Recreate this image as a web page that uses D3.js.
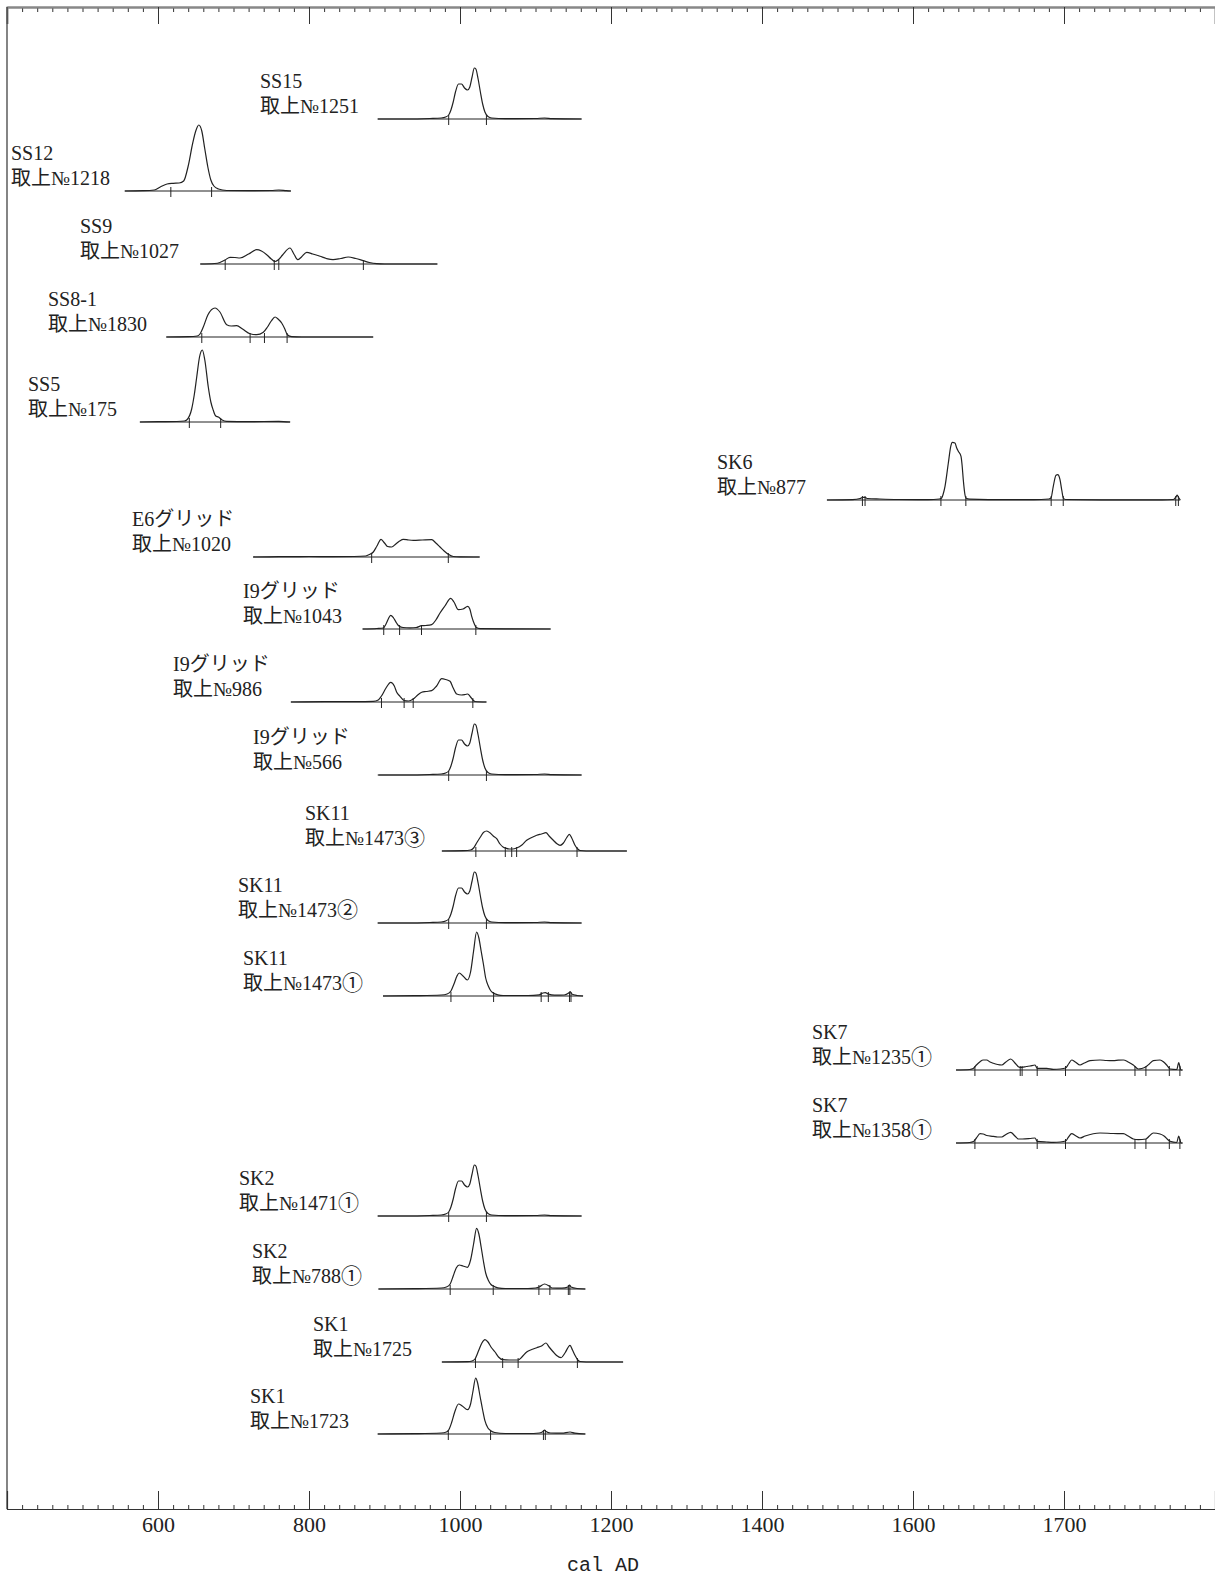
<!DOCTYPE html>
<meta charset="utf-8">
<style>
  body { margin: 0; background: #fff; }
  text { font-family: "Liberation Serif", "Noto Sans CJK JP", serif; fill: #222; }
</style>
<body>
<div id="chart"></div>
<script src="https://d3js.org/d3.v7.min.js"></script>
<script>
// ---- data ----
var labelTop = ["SS15", "SS12", "SS9", "SS8-1", "SS5", "SK6", "E6グリッド", "I9グリッド", "I9グリッド", "I9グリッド",
  "SK11", "SK11", "SK11", "SK7", "SK7", "SK2", "SK2", "SK1", "SK1"];
var labelBottom = ["取上№1251", "取上№1218", "取上№1027", "取上№1830", "取上№175", "取上№877", "取上№1020", "取上№1043",
  "取上№986", "取上№566", "取上№1473③", "取上№1473②", "取上№1473①", "取上№1235①", "取上№1358①", "取上№1471①",
  "取上№788①", "取上№1725", "取上№1723"];

// year extent of each baseline
var spans = [[891, 1161], [556, 776], [656, 970], [611, 885], [576, 775], [1486, 1954], [726, 1026], [871, 1120],
  [776, 1035], [892, 1161], [976, 1221], [891, 1161], [898, 1163], [1657, 1957], [1657, 1957], [891, 1161],
  [892, 1166], [976, 1216], [891, 1166]];

// range boundaries (cal AD)
var ranges = [
  [985, 1035],
  [617, 671],
  [689, 754, 760, 872],
  [658, 722, 741, 771],
  [641.5, 683],
  [1533, 1536.5, 1637, 1670, 1783, 1799, 1948, 1951.5],
  [883, 984.5],
  [899, 920, 949, 1021],
  [896, 926, 938, 1017],
  [985, 1035],
  [1021, 1060, 1068.5, 1075, 1155],
  [985, 1035],
  [988, 1044.5, 1107.5, 1117, 1145, 1147],
  [1682, 1742, 1744.5, 1764.5, 1802, 1894, 1908.5, 1939.5, 1953.5],
  [1682, 1764.5, 1802, 1894, 1908.5, 1939.5, 1953.5],
  [985, 1035],
  [987, 1044, 1104.5, 1119, 1143.5, 1145.5],
  [1020.5, 1056.5, 1077, 1155.5],
  [984.5, 1040.5, 1110.5, 1113]
];

// relative probability [year, value]
var probA = [[891, 0], [930, 0], [960, 0.5], [975, 1], [981, 2], [985, 4], [988, 9], [991, 17], [994, 27], [998, 35],
  [1002, 35], [1006, 31], [1010, 29], [1013, 32], [1016, 42], [1019, 51], [1021, 50], [1024, 40], [1027, 27],
  [1030, 15], [1033, 7], [1037, 2.5], [1042, 1], [1060, 0.3], [1100, 0.5], [1112, 1], [1122, 0.3], [1161, 0]];
var probSS12 = [[556, 0], [580, 0.3], [595, 1], [603, 4], [612, 7], [620, 7.7], [628, 8], [634, 10], [640, 25],
  [646, 48], [650, 60], [654, 66], [658, 60], [662, 42], [666, 24], [670, 11], [674, 5], [680, 2], [691, 0.5],
  [720, 0.3], [750, 0.5], [760, 1], [770, 0.3], [776, 0]];
var probSS9 = [[656, 0], [675, 0.5], [682, 1.5], [688.7, 4], [695.4, 6.7], [702, 6.5], [708.6, 6], [720, 10],
  [730.7, 14.3], [737, 13], [744, 9.3], [750, 5], [755, 2.5], [759, 4], [765, 9], [774.8, 16], [780, 10], [785, 4.3],
  [790, 7], [797, 11.7], [805, 10], [814.6, 7.7], [823, 5.5], [831.8, 4.3], [842, 5.5], [852, 7], [862, 5.5],
  [871.9, 3.3], [880, 1.5], [889.7, 0.3], [900, 0], [970, 0]];
var probSS8 = [[611, 0], [640, 0.3], [652, 1], [655.6, 3], [660, 10], [666, 22], [675.5, 29], [682, 25], [691, 12.3],
  [697, 11], [704.2, 11.3], [712, 8], [721.9, 3.3], [730.7, 2.3], [739.5, 4.7], [745, 10], [750, 16], [755, 20],
  [759, 18], [763.8, 14], [768, 8], [771.3, 2.3], [777.1, 0.3], [790, 0], [885, 0]];
var probSS5 = [[576, 0], [600, 0.3], [625, 0.5], [635, 1], [638, 2], [644.6, 13], [648, 27], [651.3, 45], [655, 65],
  [658.7, 72], [662, 62], [666.6, 35], [670, 20], [673.2, 11.7], [676.5, 6], [679.9, 5], [685, 2], [691, 0.7],
  [720, 0.3], [760, 0.7], [775, 0]];
var probSK6 = [[1486, 0], [1520, 0.3], [1530, 1.5], [1533.4, 2.7], [1536, 2.7], [1540, 1.5], [1556, 1], [1580, 0.5],
  [1620, 0.3], [1635, 1], [1638, 2], [1640, 6], [1642.4, 13.7], [1646.8, 37], [1650, 53.7], [1652.1, 57.7],
  [1655.6, 57], [1657.9, 52], [1660, 48.7], [1663.6, 43.7], [1665, 35], [1666.6, 20.3], [1668.9, 5], [1670, 2],
  [1675, 0.8], [1700, 0.4], [1760, 0.4], [1780, 1], [1782.8, 2], [1785.8, 13.7], [1789.4, 24.7], [1791.7, 25.3],
  [1794.7, 20.3], [1797, 10], [1799.1, 2], [1802, 0.5], [1850, 0.2], [1930, 0.2], [1945, 0.5], [1948.3, 3],
  [1950, 5], [1951.4, 3], [1954, 0]];
var probE6 = [[726, 0], [760, 0.3], [800, 0.5], [830, 0.3], [860, 0.5], [875, 1], [878.5, 2], [885.2, 5], [890, 11],
  [895.4, 17.7], [900, 14], [904, 10.5], [909.5, 10], [915, 13], [920, 16], [924.9, 17.7], [932, 17], [938.2, 16.7],
  [950, 17], [962.5, 17.3], [968, 14], [973.5, 10], [979, 6], [984.5, 2.7], [991.2, 0.5], [1000, 0.2], [1026, 0]];
var probI9a = [[871, 0], [890, 0.5], [898.4, 1], [902, 5], [905, 10], [908.2, 13.7], [912, 11], [916, 6], [919.6, 2.7],
  [924.5, 1.5], [933.8, 1.2], [942, 1.5], [949.3, 3.3], [955, 3.5], [962.5, 4.3], [968, 9], [973.5, 16], [980, 23],
  [987.7, 30.7], [992, 27], [997.8, 19.3], [1004, 20], [1010.2, 22.7], [1013, 20], [1015.5, 12.7], [1019, 5],
  [1021.2, 1.7], [1026.5, 0.3], [1060, 0.2], [1120, 0]];
var probI9b = [[776, 0], [820, 0.3], [860, 0.4], [885, 0.7], [891.7, 2], [896, 6], [902, 14], [908.2, 19.7], [913, 16],
  [916, 10], [920.5, 5.7], [925.8, 1.5], [932, 1], [938.1, 3], [944, 7], [949.3, 9.7], [955, 10.5], [962.5, 11.3],
  [969, 16], [975.8, 23.3], [981, 22.5], [986.8, 20.7], [991, 14], [995.6, 8], [1002, 7], [1007, 7.5], [1010.2, 8],
  [1014, 5], [1016.8, 2.3], [1019.9, 0.5], [1035, 0]];
var probSK11c = [[976, 0], [1005, 0.3], [1014, 1], [1018, 3], [1022, 8], [1027, 14], [1031, 18.5], [1035.4, 20],
  [1040, 18], [1044, 15], [1048.6, 12.3], [1053, 7], [1057, 4], [1060, 3], [1065, 2], [1070, 2], [1075, 3], [1082, 6],
  [1088.3, 10.7], [1095, 13.5], [1101.6, 15.7], [1108, 17], [1113.9, 18.3], [1118, 15], [1123.6, 10.7], [1128, 7.5],
  [1132.5, 5.7], [1137, 8], [1141, 13], [1144.8, 16.7], [1148, 13], [1152.3, 5.7], [1156, 2], [1159, 0.5],
  [1175, 0], [1221, 0]];
var probSK11a = [[898, 0], [940, 0.3], [975, 1], [983, 2], [988, 5], [992, 12], [996, 20], [999, 23], [1004, 20],
  [1009.7, 16], [1014, 24], [1018, 45], [1022, 64], [1025, 58], [1028, 45], [1031, 32], [1034, 18], [1037.5, 10],
  [1041, 5], [1044, 3], [1050, 1.2], [1057, 0.5], [1090, 0.5], [1105, 1.2], [1110, 3], [1113, 3.3], [1117, 2],
  [1125, 0.8], [1138, 1], [1144, 3], [1146, 4.3], [1148, 2], [1155, 0.5], [1163, 0]];
var probSK7a = [[1657, 0], [1675, 0.5], [1679.8, 1.5], [1684, 5], [1688.8, 8.3], [1693, 10], [1697.6, 10], [1702, 8],
  [1706.4, 6.7], [1712, 5.5], [1717.5, 5], [1723, 8], [1729.4, 11], [1735, 7], [1739.5, 3.3], [1741.7, 2.7],
  [1744.4, 2.7], [1750, 3.5], [1755, 4], [1761.6, 5], [1764.6, 1.7], [1770, 1.7], [1777.1, 1.7], [1785.8, 0.7],
  [1795, 1], [1802.2, 2], [1806, 6], [1810.2, 10], [1815, 8], [1821.2, 5], [1827, 7], [1834.4, 9.3], [1847.7, 10],
  [1856, 9.5], [1865.3, 9.3], [1872, 9.8], [1878.6, 10], [1885, 8], [1891.8, 5], [1898.4, 1], [1903, 1.5],
  [1908.6, 3.3], [1913, 6], [1918.3, 9.3], [1927.2, 10], [1932, 8], [1936, 5], [1940.5, 1], [1949.3, 0.5],
  [1952, 7.3], [1953.6, 3], [1955, 0], [1957, 0]];
var probSK7b = [[1657, 0], [1675, 0.5], [1680, 1.5], [1684, 5], [1688.8, 9.3], [1693, 9], [1697.6, 7.5], [1706.4, 6.7],
  [1712, 6], [1717.5, 6], [1723, 8.5], [1729.4, 10.7], [1735, 7], [1739.5, 4], [1745, 4], [1755, 4.5], [1761.6, 5],
  [1764.6, 1.7], [1777, 1], [1786, 0.7], [1795, 1], [1802.2, 2], [1806, 6], [1810.2, 9.3], [1815, 7.5], [1821.2, 5],
  [1828, 7], [1847.7, 10], [1865, 9.5], [1878.6, 9.3], [1885, 7], [1891.8, 4], [1898.4, 3.3], [1908.6, 4], [1913, 7],
  [1918.3, 10], [1927.2, 9], [1933, 6.7], [1938, 3], [1940.5, 1.7], [1949.3, 0.5], [1952, 7], [1953.6, 3],
  [1955, 0], [1957, 0]];
var probSK2b = [[892, 0], [940, 0.3], [975, 1], [982, 2], [987, 5], [991, 13], [995, 21], [999, 24], [1004, 23],
  [1009.7, 21.7], [1014, 29], [1018, 45], [1022, 60.7], [1025, 55], [1028, 42], [1031, 28], [1034, 16], [1038, 8],
  [1041, 4.5], [1044, 3], [1050, 1.2], [1060, 0.5], [1090, 0.5], [1100, 1], [1105, 2], [1112, 5], [1118, 3],
  [1122, 1], [1135, 0.8], [1143, 2], [1145, 4], [1147, 2], [1155, 0.5], [1166, 0]];
var probSK1c = [[976, 0], [1010, 0.3], [1016, 1], [1019.9, 3], [1025, 12], [1029, 19], [1033.1, 22.3], [1037, 20],
  [1041, 15], [1046.4, 10], [1051, 5], [1056.6, 2.3], [1065, 2], [1077, 2], [1082, 5], [1088.3, 10], [1095, 12.5],
  [1101.6, 14.3], [1108, 16], [1113.9, 19], [1118, 15], [1123.6, 10], [1128, 6.5], [1133.8, 4.3], [1139, 9],
  [1145.7, 16.7], [1149, 12], [1152.3, 6.7], [1156, 2], [1159, 0.5], [1175, 0], [1216, 0]];
var probSK1a = [[891, 0], [940, 0.3], [975, 1], [982, 2], [985, 4], [989, 11.7], [993, 22], [998, 30], [1003, 28],
  [1010, 24.3], [1014, 30], [1017, 42], [1020.8, 56], [1023, 52], [1026.5, 38], [1030, 24], [1033, 13.3], [1037, 6],
  [1040.7, 3.3], [1046, 1.5], [1060, 0.5], [1090, 0.5], [1105, 1], [1110, 2.5], [1112, 4], [1114, 2.5], [1120, 1],
  [1135, 0.8], [1145.7, 2], [1152, 0.8], [1166, 0]];

var probs = [probA, probSS12, probSS9, probSS8, probSS5, probSK6, probE6, probI9a, probI9b, probA, probSK11c, probA,
  probSK11a, probSK7a, probSK7b, probA, probSK2b, probSK1c, probSK1a];

var tickYears = [600, 800, 1000, 1200, 1400, 1600, 1800];
var tickLabels = ["600", "800", "1000", "1200", "1400", "1600", "1700"];

// ---- layout ----
var rowBase = [119, 191, 264, 337, 422, 500, 557, 629, 702, 775, 851, 923, 996, 1070, 1143, 1216, 1289, 1362, 1434];
var labelX = [260, 11, 80, 48, 28, 717, 132, 243, 173, 253, 305, 238, 243, 812, 812, 239, 252, 313, 250];

var width = 1215, height = 1577;
var axisTopY = 7, axisBottomY = 1509, leftX = 7;

var svg = d3.select("#chart").append("svg")
  .attr("width", width)
  .attr("height", height)
  .style("background", "#fff");

var x = d3.scaleLinear().domain([400, 2000]).range([leftX, width]);
var dens = d3.scaleLinear().domain([0, 100]).range([0, 100]);

var minorYears = d3.range(400, 2001, 20).filter(function (d) { return d % 200 !== 0; });

// bottom axis
var bottomAxis = svg.append("g").attr("transform", "translate(0," + axisBottomY + ")");
bottomAxis.call(d3.axisBottom(x).tickValues(minorYears).tickSize(-4).tickSizeOuter(0).tickFormat(""));
bottomAxis.append("g").call(d3.axisBottom(x).tickValues(tickYears).tickSize(-18).tickPadding(7)
  .tickFormat(function (d, i) { return tickLabels[i]; }));
bottomAxis.selectAll("path.domain").attr("stroke", "#333").attr("stroke-width", 1.2);
bottomAxis.selectAll("line").attr("stroke", "#333");
bottomAxis.selectAll("text")
  .style("font-family", "Liberation Serif, serif")
  .style("font-size", "22px")
  .attr("fill", "#222");

// top axis
var topAxis = svg.append("g").attr("transform", "translate(0," + axisTopY + ")");
topAxis.call(d3.axisTop(x).tickValues(minorYears).tickSize(-5).tickSizeOuter(0).tickFormat(""));
topAxis.append("g").call(d3.axisTop(x).tickValues(tickYears).tickSize(-17).tickFormat(""));
topAxis.selectAll("path.domain").attr("stroke", "#888").attr("stroke-width", 2);
topAxis.selectAll("line").attr("stroke", "#333");

// left frame
svg.append("line")
  .attr("x1", leftX).attr("x2", leftX)
  .attr("y1", axisTopY).attr("y2", axisBottomY)
  .attr("stroke", "#333").attr("stroke-width", 1.2);

svg.append("text")
  .attr("x", 603)
  .attr("y", 1571)
  .attr("text-anchor", "middle")
  .style("font-family", "Liberation Mono, monospace")
  .style("font-size", "20px")
  .text("cal AD");

// ---- samples ----
var rows = svg.append("g").selectAll("g")
  .data(probs)
  .enter()
  .append("g")
  .attr("transform", function (d, i) { return "translate(0," + rowBase[i] + ")"; });

rows.append("text")
  .attr("x", function (d, i) { return labelX[i]; })
  .attr("y", -31)
  .style("font-size", "20px")
  .text(function (d, i) { return labelTop[i]; });

// second line: circled digits set in the CJK font so they come out full width
rows.append("text")
  .attr("x", function (d, i) { return labelX[i]; })
  .attr("y", -6)
  .style("font-size", "20px")
  .each(function (d, i) {
    var t = d3.select(this);
    labelBottom[i].split(/([\u2460-\u2473])/).forEach(function (part) {
      if (!part) return;
      var span = t.append("tspan").text(part);
      if (/[\u2460-\u2473]/.test(part)) span.style("font-family", "Noto Sans CJK JP").style("font-size", "21px");
    });
  });

rows.append("line")
  .attr("x1", function (d, i) { return x(spans[i][0]); })
  .attr("x2", function (d, i) { return x(spans[i][1]); })
  .attr("stroke", "#222")
  .attr("stroke-width", 1.2);

var curve = d3.line()
  .x(function (d) { return x(d[0]); })
  .y(function (d) { return -dens(d[1]); })
  .curve(d3.curveMonotoneX);

rows.append("path")
  .attr("d", function (d) { return curve(d); })
  .attr("fill", "none")
  .attr("stroke", "#222")
  .attr("stroke-width", 1.2);

rows.each(function (d, i) {
  d3.select(this).selectAll("line.rng")
    .data(ranges[i])
    .enter()
    .append("line")
    .attr("class", "rng")
    .attr("x1", function (r) { return x(r); })
    .attr("x2", function (r) { return x(r); })
    .attr("y1", -4)
    .attr("y2", 6)
    .attr("stroke", "#222")
    .attr("stroke-width", 1);
});
</script>
</body>
